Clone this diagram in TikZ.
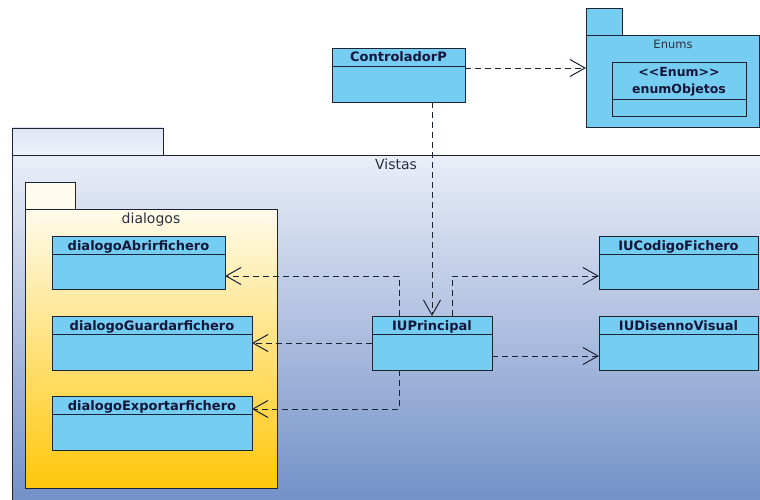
\documentclass[tikz,border=0pt]{standalone}
\usepackage{fontspec}
\setmainfont{DejaVu Sans}
\usetikzlibrary{arrows.meta,calc}
\definecolor{classblue}{RGB}{118,205,242}
\definecolor{edgecol}{RGB}{28,36,52}
\definecolor{textnavy}{RGB}{18,22,58}
\definecolor{labelgrey}{RGB}{45,48,60}
\tikzset{
  classbox/.style={draw=edgecol, line width=0.9pt, fill=classblue, rectangle,
    inner sep=0pt, outer sep=0pt, anchor=north west},
  classname/.style={text=textnavy, font=\fontsize{13}{15}\selectfont\bfseries,
    inner sep=0pt, anchor=base},
  pkglabel/.style={text=labelgrey, font=\fontsize{14}{16}\selectfont, inner sep=0pt, anchor=base},
  pkgline/.style={draw=edgecol, line width=0.9pt},
  dep/.style={draw=edgecol, line width=0.9pt, dash pattern=on 6pt off 4pt,
    -{Straight Barb[length=15pt,width=17pt,line width=1pt]}}
}
% class box: name, x, y, width, height, title
\newcommand\umlclass[6]{%
  \node[classbox, minimum width=#4, minimum height=#5] (#1) at (#2,#3) {};
  \draw[pkgline] ($(#1.north west)+(0,18)$) -- ($(#1.north east)+(0,18)$);
  \node[classname] (#1-t) at ($(#1.north)+(0,14)$) {#6};}
\begin{document}
\begin{tikzpicture}[x=1pt,y=-1pt]
\useasboundingbox (0,0) rectangle (760,500);
\clip (0,0) rectangle (760,500);
\fill[white] (0,0) rectangle (760,500);

% package Vistas
\draw[pkgline, top color={rgb,255:red,222;green,228;blue,244}, bottom color={rgb,255:red,240;green,243;blue,250}]
  (12,128) rectangle (163,155);
\path[pkgline, top color={rgb,255:red,234;green,238;blue,248},
  middle color={rgb,255:red,182;green,194;blue,226},
  bottom color={rgb,255:red,112;green,142;blue,198}]
  (12,155) rectangle (770,510);
\node[pkglabel] (vistas) at (396,169) {Vistas};

% package dialogos
\draw[pkgline, fill={rgb,255:red,255;green,251;blue,236}] (25,182) rectangle (75,209);
\path[pkgline, top color={rgb,255:red,255;green,251;blue,236},
  middle color={rgb,255:red,255;green,228;blue,140},
  bottom color={rgb,255:red,255;green,199;blue,10}]
  (25,209) rectangle (277,488);
\node[pkglabel] (dialogos) at (151,223) {dialogos};

% package Enums
\draw[pkgline, fill=classblue] (586,8) rectangle (622,35);
\node[classbox, minimum width=173, minimum height=92] (ens) at (586,35) {};
\node[pkglabel, font=\fontsize{11.5}{13}\selectfont] (enumslbl) at (673,49) {Enums};
\node[classbox, minimum width=134, minimum height=54] (eo) at (612,62) {};
\draw[pkgline] ($(eo.north west)+(0,37)$) -- ($(eo.north east)+(0,37)$);
\node[classname, font=\fontsize{12.5}{14}\selectfont\bfseries] (eo-s) at ($(eo.north)+(0,15)$)
  {<\kern0pt<Enum>\kern0pt>};
\node[classname, font=\fontsize{12.5}{14}\selectfont\bfseries] (eo-t) at ($(eo.north)+(0,32)$) {enumObjetos};

% classes
\umlclass{cp}{332}{48}{133}{54}{ControladorP}
\umlclass{dab}{52}{236}{173}{53}{dialogoAbrirfichero}
\umlclass{dgu}{52}{316}{200}{54}{dialogoGuardarfichero}
\umlclass{dex}{52}{396}{200}{54}{dialogoExportarfichero}
\umlclass{iup}{372}{316}{120}{54}{IUPrincipal}
\umlclass{iuc}{599}{236}{159}{53}{IUCodigoFichero}
\umlclass{iud}{599}{316}{159}{54}{IUDisennoVisual}

% dependencies
\coordinate (cpout) at ($(cp.north east)+(0,20)$);
\draw[dep] (cpout) -- (cpout -| ens.west);
\draw[dep] (cp.south -| iup.north) -- (iup.north);
\draw[dep] ($(iup.north west)+(27,0)$) |- ($(dab.south east)+(0,-13)$);
\draw[dep] ($(iup.north west)+(80,0)$) |- ($(iuc.south west)+(0,-13)$);
\draw[dep] (iup.west) -- (dgu.east);
\coordinate (iupout) at ($(iup.east)+(0,13)$);
\draw[dep] (iupout) -- (iupout -| iud.west);
\draw[dep] ($(iup.south west)+(27,0)$) |- ($(dex.east)+(0,-14)$);
\end{tikzpicture}
\end{document}
